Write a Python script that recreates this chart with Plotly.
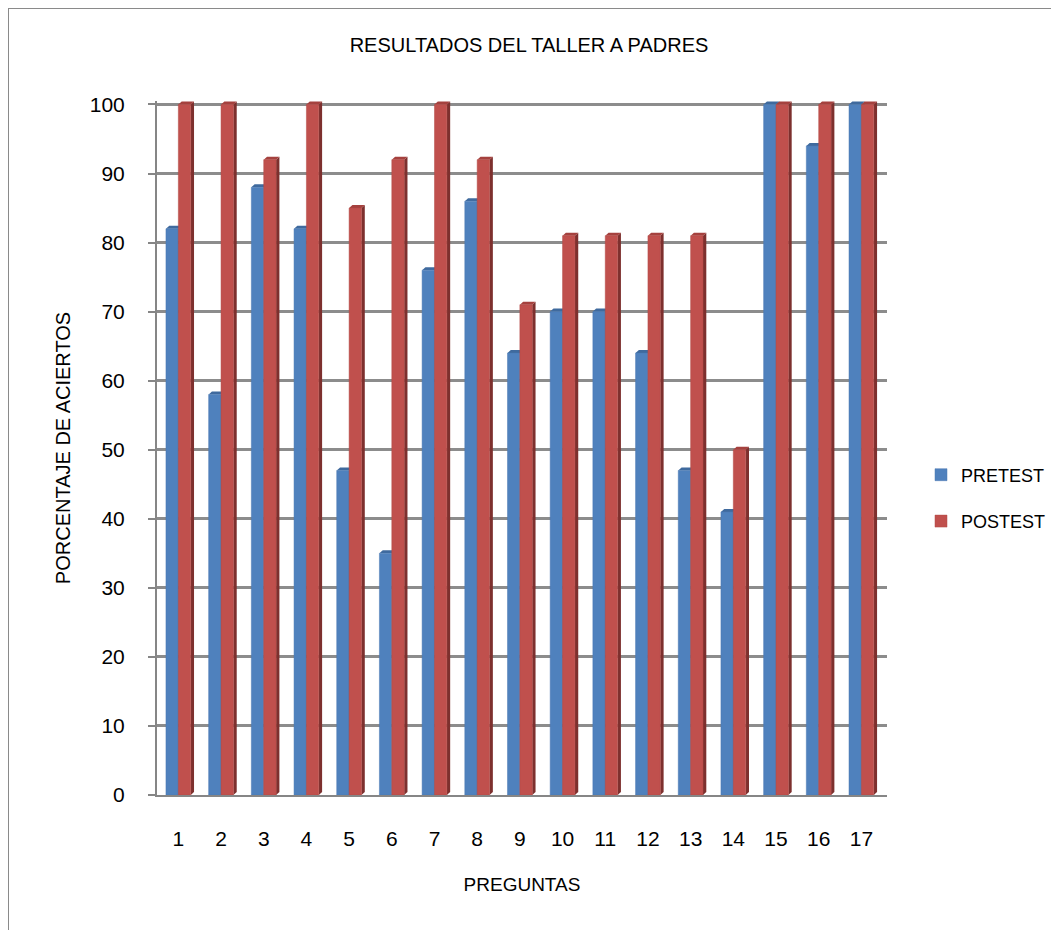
import plotly.graph_objects as go

preguntas = [str(i) for i in range(1, 18)]
pretest = [82, 58, 88, 82, 47, 35, 76, 86, 64, 70, 70, 64, 47, 41, 100, 94, 100]
postest = [100, 100, 92, 100, 85, 92, 100, 92, 71, 81, 81, 81, 81, 50, 100, 100, 100]
y_ticks = list(range(0, 101, 10))

W, H = 1059, 930
OFF = 8  # page body offset
L, R, T, B = 149, 180, 93, 143
FONT = "Liberation Sans, Arial, sans-serif"
BARGAP = 0.42
xs = list(range(1, 18))

fig = go.Figure()
fig.add_trace(go.Bar(x=xs, y=pretest, name="PRETEST", legendgroup="a",
                     marker=dict(color="#4F81BD", line=dict(color="#4A79B2", width=0.5))))
fig.add_trace(go.Bar(x=xs, y=postest, name="POSTEST", legendgroup="b",
                     marker=dict(color="#C0504D", line=dict(color="#B24A47", width=0.5))))

pw = W - L - R
ph = H - T - B
def px_x(p):
    return (p - OFF - L) / pw
def px_y(p):
    return (H - B - (p - OFF)) / ph

# 3D-look faces (side and top) derived from data and the bar layout
XR = (0.5, 17.6)
YR = (0, 100.5)
dx = 3.3 * (XR[1] - XR[0]) / pw
dy = 3.0 * (YR[1] - YR[0]) / ph
bw = (1 - BARGAP) / 2
shapes = []
for vals, off, side_c, top_c in [(pretest, -bw, "#385D8A", "#3F6A9E"),
                                 (postest, 0.0, "#7D302E", "#A5413E")]:
    for xc, v in zip(xs, vals):
        x0 = xc + off
        x1 = x0 + bw
        shapes.append(dict(type="path", xref="x", yref="y", layer="between",
                           path=f"M{x1},0 L{x1+dx},{dy} L{x1+dx},{v+dy} L{x1},{v} Z",
                           fillcolor=side_c, line=dict(width=0)))
        shapes.append(dict(type="path", xref="x", yref="y", layer="between",
                           path=f"M{x0},{v} L{x0+dx},{v+dy} L{x1+dx},{v+dy} L{x1},{v} Z",
                           fillcolor=top_c, line=dict(width=0)))

shapes += [
    dict(type="line", xref="paper", yref="paper", x0=px_x(8), x1=px_x(W + 20),
         y0=px_y(8), y1=px_y(8), line=dict(color="#8A8A8A", width=2)),
    dict(type="line", xref="paper", yref="paper", x0=px_x(8), x1=px_x(8),
         y0=px_y(8), y1=px_y(H + 20), line=dict(color="#8A8A8A", width=2)),
]

fig.update_layout(
    width=W, height=H,
    margin=dict(l=L, r=R, t=T, b=B),
    paper_bgcolor="white", plot_bgcolor="white",
    barmode="group", bargap=BARGAP, bargroupgap=0.0,
    font=dict(family=FONT, size=21, color="#000000"),
    title=dict(text="RESULTADOS DEL TALLER A PADRES", x=px_x(529), xanchor="center", xref="paper",
               y=1 - (45 - OFF) / H, yanchor="middle", yref="container",
               font=dict(size=20, family=FONT)),
    xaxis=dict(
        range=list(XR), tickmode="array", tickvals=xs, ticktext=preguntas,
        showgrid=False, showline=True, linecolor="#868686", linewidth=2,
        ticks="", ticklabelstandoff=24, tickfont=dict(size=21),
        title=dict(text="PREGUNTAS", font=dict(size=19), standoff=28),
        zeroline=False,
    ),
    yaxis=dict(
        range=list(YR), tickmode="array", tickvals=y_ticks,
        showgrid=True, gridcolor="#8C8C8C", gridwidth=2.5,
        showline=True, linecolor="#868686", linewidth=2,
        ticks="outside", ticklen=7, tickcolor="#868686", tickwidth=2,
        ticklabelstandoff=19, tickfont=dict(size=21),
        title=dict(text="PORCENTAJE DE ACIERTOS", font=dict(size=20), standoff=14),
        zeroline=False,
    ),
    legend=dict(x=px_x(921), xanchor="left", y=px_y(498), yanchor="middle",
                font=dict(size=18), tracegroupgap=20, traceorder="grouped",
                bgcolor="rgba(0,0,0,0)"),
    shapes=shapes,
)

fig.write_html("out.html")
